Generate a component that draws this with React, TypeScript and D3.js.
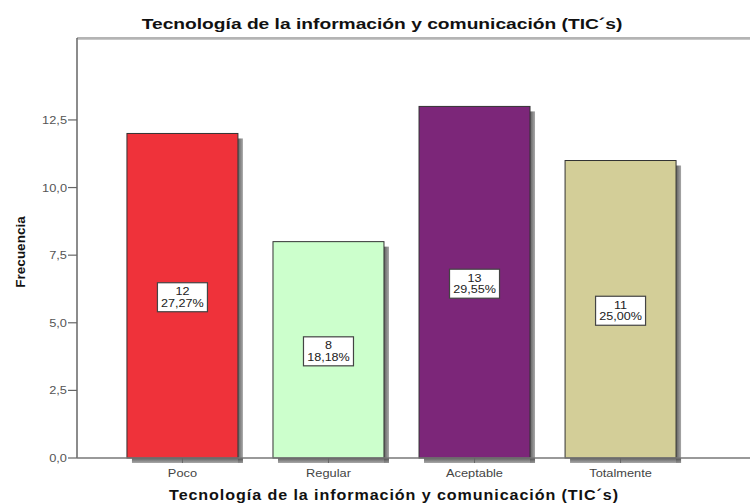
import React from "react";
import * as d3 from "d3";

const categories = ["Poco", "Regular", "Aceptable", "Totalmente"];
const counts = [12, 8, 13, 11];
const colors = ["#EF323A", "#CCFFCC", "#7C2679", "#D3CE98"];
const yTicks = [0, 2.5, 5, 7.5, 10, 12.5];
const title = "Tecnología de la información y comunicación (TIC´s)";
const xTitle = "Tecnología de la información y comunicación (TIC´s)";
const yTitle = "Frecuencia";

const W = 750;
const H = 504;
const left = 77;
const top = 38;
const bottom = 458;
const SX = 1.22;

function SText(props: {
  x: number;
  y: number;
  anchor?: "start" | "middle" | "end";
  size: number;
  bold?: boolean;
  fill?: string;
  sx?: number;
  spacing?: number;
  children: React.ReactNode;
}) {
  const { x, y, anchor = "middle", size, bold, fill = "#111", sx = SX, spacing = 0, children } = props;
  return (
    <text
      transform={`translate(${x},${y}) scale(${sx},1)`}
      textAnchor={anchor}
      fontSize={size}
      fontWeight={bold ? "bold" : "normal"}
      fill={fill}
      letterSpacing={spacing}
    >
      {children}
    </text>
  );
}

export default function App() {
  const x = d3
    .scaleBand<string>()
    .domain(categories)
    .range([left, 726])
    .paddingInner(0.24)
    .paddingOuter(0.342);
  const y = d3.scaleLinear().domain([0, 15.53]).range([bottom, top]);
  const total = d3.sum(counts);
  const fmt = (v: number) => v.toFixed(1).replace(".", ",");
  const pct = (v: number) => ((v / total) * 100).toFixed(2).replace(".", ",") + "%";
  const bw = x.bandwidth();
  const font = "Liberation Sans, Arial, sans-serif";

  return (
    <svg
      width={W}
      height={H}
      style={{ position: "absolute", left: 0, top: 0, background: "#fff" }}
      fontFamily={font}
    >
      <defs>
        <linearGradient id="shR" x1="0" x2="1" y1="0" y2="0">
          <stop offset="0" stopColor="#444" />
          <stop offset="1" stopColor="#999" />
        </linearGradient>
        <linearGradient id="shB" x1="0" x2="0" y1="0" y2="1">
          <stop offset="0" stopColor="#444" />
          <stop offset="1" stopColor="#999" />
        </linearGradient>
      </defs>
      <rect x={0} y={0} width={W} height={H} fill="#fff" />
      {/* title */}
      <SText x={382} y={29} size={15.5} bold sx={1.24}>
        {title}
      </SText>
      {/* frame */}
      <line x1={left} x2={W} y1={top} y2={top} stroke="#6a6a6a" strokeWidth={1.2} />
      <line x1={left + 1} x2={W} y1={top + 1.5} y2={top + 1.5} stroke="#c8c8c8" strokeWidth={1} />
      {/* bars */}
      {categories.map((c, i) => {
        const bx = x(c)!;
        const by = y(counts[i]);
        const bh = bottom - by;
        return (
          <g key={c}>
            <rect x={bx + bw} y={by + 5} width={5} height={bh} fill="url(#shR)" opacity={0.85} />
            <rect x={bx + 5} y={bottom} width={bw} height={5} fill="url(#shB)" opacity={0.85} />
            <rect x={bx} y={by} width={bw} height={bh} fill={colors[i]} stroke="#333" strokeWidth={1} />
          </g>
        );
      })}
      {/* axes */}
      <line x1={left} x2={left} y1={top} y2={bottom} stroke="#666" strokeWidth={1.5} />
      <line x1={left} x2={W} y1={bottom} y2={bottom} stroke="#777" strokeWidth={1.5} />
      {yTicks.map((t) => (
        <g key={t}>
          <line x1={left - 9} x2={left} y1={y(t)} y2={y(t)} stroke="#666" strokeWidth={1.2} />
          <SText x={left - 10} y={y(t) + 4} anchor="end" size={10.5} fill="#555">
            {fmt(t)}
          </SText>
        </g>
      ))}
      {categories.map((c) => {
        const cx = x(c)! + bw / 2;
        return (
          <g key={c}>
            <line x1={cx} x2={cx} y1={bottom} y2={bottom + 5} stroke="#666" />
            <SText x={cx} y={477} size={10.5} fill="#444">
              {c}
            </SText>
          </g>
        );
      })}
      {/* value labels */}
      {categories.map((c, i) => {
        const cx = x(c)! + bw / 2;
        const cy = (y(counts[i]) + bottom) / 2 + 1.5;
        const t0 = cy - 14.5;
        return (
          <g key={c + "lbl"}>
            <rect x={cx - 25} y={t0} width={50} height={29} fill="#fff" stroke="#444" strokeWidth={1.2} />
            <SText x={cx} y={t0 + 12.5} size={10.5} fill="#222" sx={1.2}>
              {counts[i]}
            </SText>
            <SText x={cx} y={t0 + 24} size={10.5} fill="#222" sx={1.2}>
              {pct(counts[i])}
            </SText>
          </g>
        );
      })}
      {/* axis titles */}
      <text
        transform={`translate(25,${(top + bottom) / 2 + 4}) rotate(-90)`}
        textAnchor="middle"
        fontSize={13.5}
        fontWeight="bold"
        fill="#111"
      >
        {yTitle}
      </text>
      <SText x={394} y={500} size={14} bold sx={1.15} spacing={0.8}>
        {xTitle}
      </SText>
    </svg>
  );
}
